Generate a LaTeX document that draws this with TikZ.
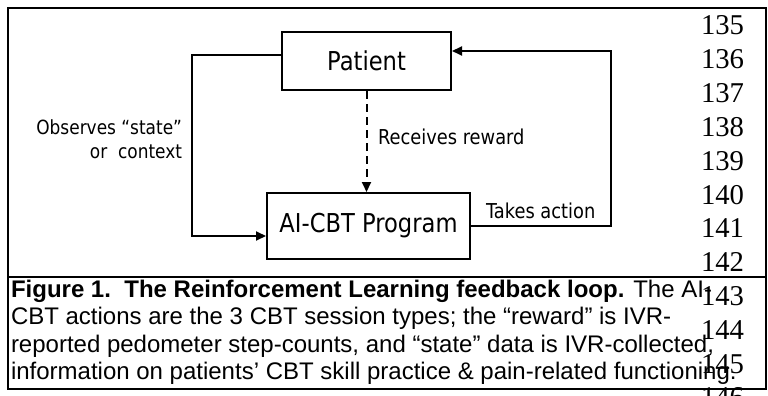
\documentclass[tikz,border=0pt]{standalone}
\usepackage{fontspec}
\setmainfont{Liberation Sans}
\newfontfamily\diagfont[FakeStretch=0.87]{DejaVu Sans}
\newfontfamily\numfont{Liberation Serif}
\usetikzlibrary{arrows.meta,calc}
\begin{document}
\begin{tikzpicture}[x=1pt,y=-1pt,line width=2pt,
  box/.style={draw,line width=2pt,inner sep=0pt,font=\diagfont\fontsize{26}{30}\selectfont},
  lbl/.style={inner sep=0pt,font=\diagfont\fontsize{20.5}{24}\selectfont},
  arr/.style={-{Triangle[length=10pt,width=9pt]},line width=2pt},
  dasharr/.style={arr,dash pattern=on 8pt off 5pt},
  numtext/.style={inner sep=0pt,anchor=base west,font=\numfont\fontsize{28.7}{33}\selectfont},
  captext/.style={inner sep=0pt,anchor=base west,font=\fontsize{24}{27.5}\selectfont},
  framestyle/.style={draw,line width=2pt}]
\useasboundingbox (0,0) rectangle (768,396);
% frame
\draw[framestyle] (8,8) rectangle (766,389);
\draw[framestyle] (8,277) -- (766,277);
% boxes
\node[box,minimum width=169pt,minimum height=58pt] (patient) at (366.5,61) {Patient};
\node[box,minimum width=203pt,minimum height=66pt] (prog) at (368.5,226) {AI-CBT Program};
% connectors
\coordinate (pl) at ($(patient.west)+(0,-6)$);
\coordinate (pr) at ($(patient.east)+(0,-10)$);
\coordinate (al) at ($(prog.west)+(0,10)$);
\coordinate (ar) at (prog.east);
\coordinate (lx) at (192,0);
\coordinate (rx) at (611,0);
\draw[arr] (pl) -- (pl -| lx) -- (al -| lx) -- (al);
\draw[arr] (ar) -- (ar -| rx) -- (pr -| rx) -- (pr);
\draw[dasharr] (patient.south) -- (patient.south |- prog.north);
% labels
\node[lbl,anchor=west] (recv) at (377,137) {Receives reward};
\node[lbl,anchor=west] (takes) at (485,211) {Takes action};
\node[lbl,anchor=east,align=right,font=\diagfont\fontsize{19.5}{23}\selectfont] (obs) at (183,139) {Observes “state”\\[1pt]or\ \ context};
% caption
\node[captext] (c1) at (10,297) {\textbf{Figure 1.\ \ The Reinforcement Learning feedback loop.} The AI-};
\node[captext] (c2) at (10,324.5) {CBT actions are the 3 CBT session types; the “reward” is IVR-};
\node[captext] (c3) at (10,352) {reported pedometer step-counts, and “state” data is IVR-collected,};
\node[captext] (c4) at (10,379.5) {information on patients’ CBT skill practice \& pain-related functioning.};
% line numbers
\foreach \n [count=\i from 0] in {135,136,137,138,139,140,141,142,143,144,145,146}
  \node[numtext] (ln\n) at (700,{35+33.8*\i}) {\n};
\end{tikzpicture}
\end{document}
